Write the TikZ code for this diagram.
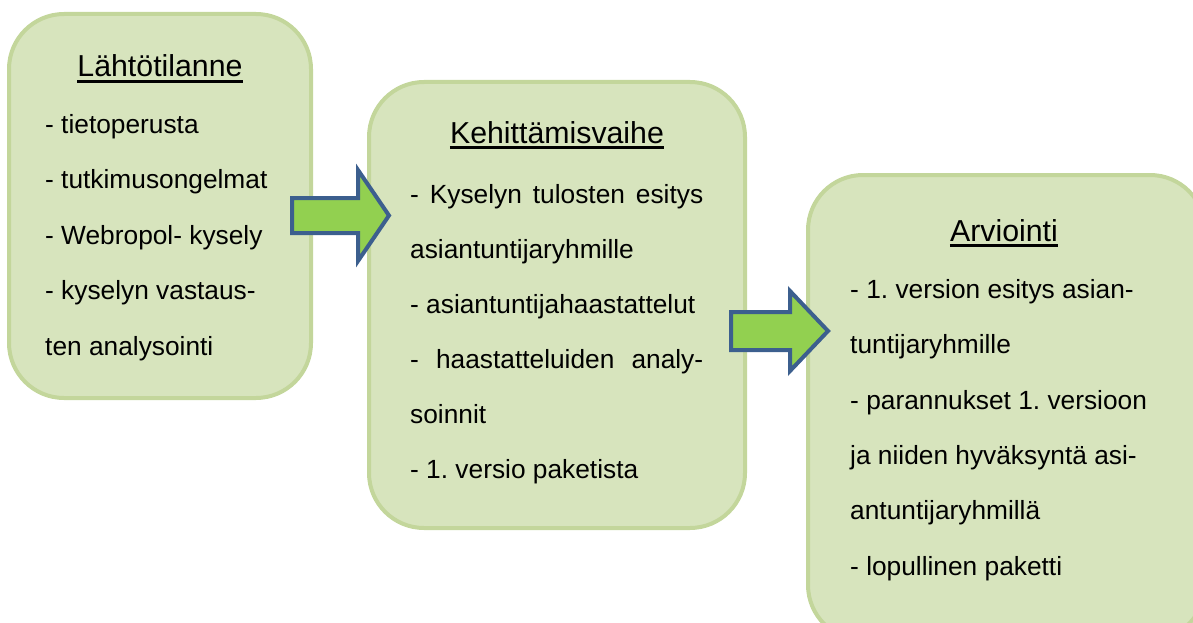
\documentclass[tikz,border=0pt]{standalone}
\usepackage{fontspec}
\setmainfont{Liberation Sans}
\frenchspacing
\definecolor{boxfill}{HTML}{D7E4BD}
\definecolor{boxline}{HTML}{C3D69B}
\definecolor{arrfill}{HTML}{92D050}
\definecolor{arrline}{HTML}{3C5F8E}
\begin{document}
\begin{tikzpicture}[x=1pt,y=-1pt,
  stagebox/.style={draw=boxline, fill=boxfill, line width=4pt, rounded corners=55pt, rectangle, inner sep=0pt},
  titletext/.style={font=\fontsize{30.3}{36}\selectfont, inner sep=0pt, anchor=base},
  itemtext/.style={font=\fontsize{26.3}{30}\selectfont, inner sep=0pt, anchor=base west},
  uline/.style={line width=2.5pt, black},
  blockarrow/.style={draw=arrline, fill=arrfill, line width=4pt, miter limit=10}]
\useasboundingbox (0,0) rectangle (1193,623);
\clip (0,0) rectangle (1193,623);
% boxes
\node[stagebox, minimum width=302pt, minimum height=384pt] (b1) at (160,206) {};
\node[stagebox, minimum width=376pt, minimum height=446pt] (b2) at (557,305) {};
\node[stagebox, minimum width=397pt, minimum height=465pt] (b3) at (1006.5,407.5) {};
% arrows
\coordinate (a1) at (292,215.5);
\coordinate (a1tip) at (389,215.5);
\draw[blockarrow] (a1 |- 0,198) -- (358,198) -- (358,170) -- (a1tip) -- (358,261) -- (358,233) -- (a1 |- 0,233) -- cycle;
\coordinate (a2) at (731,331);
\coordinate (a2tip) at (828,331);
\draw[blockarrow] (a2 |- 0,312) -- (790,312) -- (790,291) -- (a2tip) -- (790,371) -- (790,350) -- (a2 |- 0,350) -- cycle;
% titles
\node[titletext] (t1) at (160,77) {Lähtötilanne};
\node[titletext] (t2) at (557,143) {Kehittämisvaihe};
\node[titletext] (t3) at (1004,241) {Arviointi};
\foreach \t in {t1,t2,t3}
  \draw[uline] ([yshift=-4.5pt]\t.base west) -- ([yshift=-4.5pt]\t.base east);
% box 1 items
\node[itemtext] (p1a) at (45,133) {- tietoperusta};
\node[itemtext] (p1b) at (45,188.5) {- tutkimusongelmat};
\node[itemtext] (p1c) at (45,244) {- Webropol- kysely};
\node[itemtext] (p1d) at (45,299.5) {- kyselyn vastaus-};
\node[itemtext] (p1e) at (45,355) {ten analysointi};
% box 2 items
\node[itemtext] (p2a) at (410,203) {\hbox to 293pt{-\hfill Kyselyn\hfill tulosten\hfill esitys}};
\node[itemtext] (p2b) at (410,258) {asiantuntijaryhmille};
\node[itemtext] (p2c) at (410,313) {- asiantuntijahaastattelut};
\node[itemtext] (p2d) at (410,368) {\hbox to 293pt{-\hfill haastatteluiden\hfill analy-}};
\node[itemtext] (p2e) at (410,423) {soinnit};
\node[itemtext] (p2f) at (410,478) {- 1. versio paketista};
% box 3 items
\node[itemtext] (p3a) at (850,298) {- 1. version esitys asian-};
\node[itemtext] (p3b) at (850,353) {tuntijaryhmille};
\node[itemtext] (p3c) at (850,409) {- parannukset 1. versioon};
\node[itemtext] (p3d) at (850,464) {ja niiden hyväksyntä asi-};
\node[itemtext] (p3e) at (850,519) {antuntijaryhmillä};
\node[itemtext] (p3f) at (850,575) {- lopullinen paketti};
\end{tikzpicture}
\end{document}
